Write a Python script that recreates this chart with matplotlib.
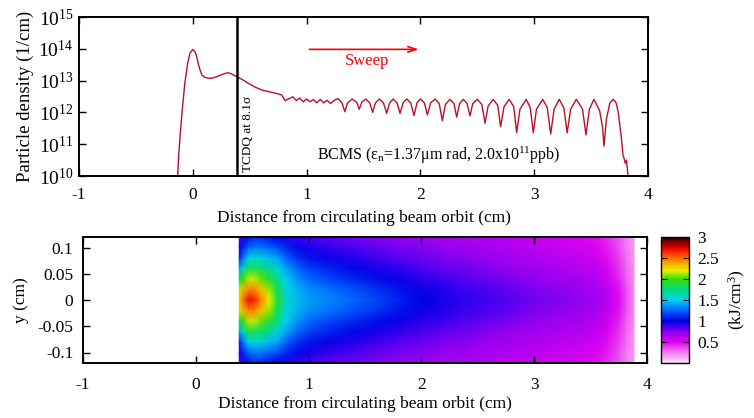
import numpy as np
import matplotlib
matplotlib.use("Agg")
import matplotlib.pyplot as plt
from matplotlib.colors import LinearSegmentedColormap
from matplotlib.ticker import FixedLocator, NullLocator

plt.rcParams['font.family'] = ['Liberation Serif', 'DejaVu Serif']
plt.rcParams['mathtext.fontset'] = 'custom'
plt.rcParams['mathtext.rm'] = 'Liberation Serif'
plt.rcParams['mathtext.it'] = 'Liberation Serif:italic'

# ---------------- top panel: particle density ----------------
dist_cm = [-0.135, -0.125, -0.11, -0.09, -0.07, -0.045, -0.025, 0.0, 0.02, 0.035, 0.05, 0.064,
           0.08, 0.10, 0.13, 0.16, 0.21, 0.27, 0.31, 0.34, 0.39, 0.44, 0.50, 0.55, 0.61,
           0.67, 0.73, 0.78, 0.81, 0.85, 0.88, 0.91, 0.94, 0.97, 1.00, 1.03, 1.06, 1.09,
           1.12, 1.15, 1.18, 1.21, 1.25, 1.279, 1.31, 1.337, 1.36, 1.40, 1.44, 1.463,
           1.485, 1.52, 1.555, 1.58, 1.605, 1.64, 1.675, 1.704, 1.73, 1.76, 1.795, 1.821,
           1.85, 1.88, 1.915, 1.944, 1.97, 2.00, 2.035, 2.061, 2.09, 2.13, 2.165, 2.193,
           2.22, 2.26, 2.295, 2.319, 2.345, 2.377, 2.41, 2.436, 2.46, 2.50, 2.54, 2.568,
           2.595, 2.64, 2.68, 2.705, 2.735, 2.78, 2.82, 2.846, 2.875, 2.93, 2.965, 2.992,
           3.02, 3.075, 3.115, 3.145, 3.175, 3.22, 3.26, 3.29, 3.32, 3.37, 3.425, 3.455,
           3.485, 3.525, 3.575, 3.60, 3.613, 3.635, 3.665, 3.695, 3.72, 3.74, 3.768, 3.78,
           3.79, 3.80, 3.81, 3.82, 3.827]
log_density = [9.8, 10.6, 11.35, 12.18, 12.92, 13.54, 13.86, 13.98, 13.90, 13.75, 13.50, 13.33,
               13.18, 13.11, 13.08, 13.07, 13.12, 13.21, 13.25, 13.21, 13.12, 13.02, 12.89, 12.79, 12.70,
               12.65, 12.60, 12.55, 12.37, 12.44, 12.49, 12.37, 12.45, 12.33, 12.42, 12.34, 12.40, 12.30,
               12.41, 12.30, 12.38, 12.28, 12.40, 12.43, 12.30, 12.02, 12.30, 12.42, 12.32, 12.10,
               12.32, 12.42, 12.30, 12.00, 12.30, 12.42, 12.30, 11.97, 12.30, 12.42, 12.30, 11.97,
               12.32, 12.42, 12.30, 11.90, 12.30, 12.42, 12.30, 11.92, 12.30, 12.42, 12.28, 11.74,
               12.25, 12.41, 12.28, 11.85, 12.28, 12.41, 12.28, 11.89, 12.28, 12.41, 12.25, 11.66,
               12.20, 12.41, 12.22, 11.55, 12.18, 12.41, 12.18, 11.36, 12.10, 12.41, 12.15, 11.36,
               12.10, 12.41, 12.15, 11.32, 12.10, 12.41, 12.15, 11.36, 12.10, 12.41, 12.10, 11.29,
               12.10, 12.41, 12.05, 11.55, 10.94, 11.80, 12.30, 12.41, 12.30, 11.97, 11.13, 10.66,
               10.55, 10.40, 10.50, 10.20, 9.8]

tcdq_pos = 0.385
xticks = [-1, 0, 1, 2, 3, 4]
ytick_exp = [10, 11, 12, 13, 14, 15]

# ---------------- bottom panel: energy density map ----------------
map_x = [0.385, 0.42, 0.47, 0.52, 0.58, 0.65, 0.72, 0.80, 0.90, 1.0, 1.2, 1.4, 1.6, 1.8,
         2.0, 2.2, 2.4, 2.6, 2.8, 3.0, 3.2, 3.4, 3.55, 3.65, 3.75, 3.82, 3.885]
abs_y = [0.0, 0.02, 0.04, 0.06, 0.08, 0.10, 0.12]
e_y000 = [2.30, 2.50, 2.70, 2.65, 2.45, 2.20, 1.90, 1.60, 1.45, 1.38, 1.32, 1.25, 1.18, 1.08,
          1.00, 0.95, 0.91, 0.87, 0.83, 0.79, 0.76, 0.73, 0.69, 0.61, 0.49, 0.34, 0.22]
e_y002 = [2.15, 2.35, 2.45, 2.45, 2.30, 2.10, 1.85, 1.55, 1.42, 1.35, 1.28, 1.20, 1.13, 1.05,
          0.98, 0.93, 0.89, 0.85, 0.81, 0.77, 0.74, 0.71, 0.67, 0.59, 0.47, 0.33, 0.22]
e_y004 = [1.80, 2.00, 2.15, 2.15, 2.05, 1.90, 1.75, 1.50, 1.35, 1.26, 1.17, 1.10, 1.04, 0.98,
          0.92, 0.88, 0.84, 0.80, 0.77, 0.73, 0.70, 0.67, 0.63, 0.56, 0.44, 0.31, 0.21]
e_y006 = [1.40, 1.65, 1.85, 1.85, 1.80, 1.70, 1.55, 1.40, 1.26, 1.17, 1.08, 1.01, 0.96, 0.91,
          0.86, 0.82, 0.79, 0.76, 0.72, 0.69, 0.66, 0.63, 0.59, 0.52, 0.41, 0.29, 0.20]
e_y008 = [1.10, 1.30, 1.50, 1.55, 1.55, 1.45, 1.40, 1.25, 1.12, 1.05, 0.98, 0.93, 0.88, 0.84,
          0.80, 0.77, 0.74, 0.71, 0.68, 0.65, 0.62, 0.59, 0.55, 0.48, 0.38, 0.27, 0.19]
e_y010 = [0.95, 1.10, 1.25, 1.30, 1.30, 1.25, 1.20, 1.10, 1.02, 0.96, 0.90, 0.86, 0.82, 0.78,
          0.75, 0.72, 0.70, 0.67, 0.64, 0.61, 0.58, 0.55, 0.51, 0.45, 0.35, 0.25, 0.18]
e_y012 = [0.85, 0.95, 1.05, 1.10, 1.10, 1.05, 1.00, 0.95, 0.90, 0.86, 0.82, 0.78, 0.75, 0.72,
          0.70, 0.67, 0.65, 0.63, 0.60, 0.57, 0.55, 0.52, 0.48, 0.42, 0.33, 0.24, 0.18]
cbar_ticks = [0.5, 1, 1.5, 2, 2.5, 3]
map_yticks = [-0.1, -0.05, 0, 0.05, 0.1]

palette_vals = [0.0, 0.25, 0.5, 0.72, 0.9, 1.0, 1.25, 1.5, 1.75, 2.0, 2.2, 2.4, 2.6, 2.75, 2.9, 3.0]
palette_cols = ['#f8e6f8', '#f27af2', '#de00f0', '#9600f0', '#3200f0', '#0000e6', '#0064ff',
                '#00d2f0', '#00dc82', '#3cdc00', '#e6f000', '#ffa000', '#ff3c00', '#dc0000',
                '#780000', '#000000']

cmap = LinearSegmentedColormap.from_list(
    'gp', [(v / 3.0, c) for v, c in zip(palette_vals, palette_cols)])

W, H = 754, 418
fig = plt.figure(figsize=(W / 100, H / 100), dpi=100)
FS = 12.5

def style_axes(ax, xpad):
    for s in ax.spines.values():
        s.set_linewidth(1.4)
    ax.tick_params(which='both', direction='in', top=True, right=True, labelsize=FS,
                   width=1.0, colors='black')
    ax.tick_params(which='major', length=5)
    ax.tick_params(axis='x', pad=xpad)

# top
ax1 = fig.add_axes([79 / W, 1 - 176 / H, (648 - 79) / W, (176 - 17) / H])
dens = 10.0 ** np.array(log_density)
ax1.plot(dist_cm, dens, color='#b81028', lw=1.0)
ax1.axvline(tcdq_pos, color='black', lw=1.8)
ax1.set_yscale('log')
ax1.set_xlim(-1, 4)
ax1.set_ylim(1e10, 1e15)
ax1.set_xticks(xticks)
ax1.set_xticklabels([str(t) for t in xticks])
ax1.yaxis.set_major_locator(FixedLocator([10.0 ** e for e in ytick_exp]))
ax1.set_yticklabels([r'$\mathregular{10^{%d}}$' % e for e in ytick_exp])
ax1.yaxis.set_minor_locator(NullLocator())
style_axes(ax1, 8)
ax1.tick_params(axis='y', labelsize=14, pad=4)
ax1.set_xlabel('Distance from circulating beam orbit (cm)', fontsize=FS, labelpad=5)
ax1.set_ylabel('Particle density (1/cm)', fontsize=13.5, labelpad=3)
ax1.text(0.485, 1.35e10, 'TCDQ at 8.1σ', rotation=90, ha='center', va='bottom',
         fontsize=9.5)
ax1.text(2.163, 4.6e10, r'BCMS (ε$_{\mathregular{n}}$=1.37μm rad, 2.0x10$^{\mathregular{11}}$ppb)',
         ha='center', va='center', fontsize=11.5)
ax1.annotate('', xy=(2.01, 9.6e13), xytext=(1.0, 9.6e13),
             arrowprops=dict(arrowstyle='->,head_length=0.6,head_width=0.2', color='red', lw=1.2))
ax1.text(1.53, 4.2e13, 'Sweep', color='red', ha='center', va='center', fontsize=12)

# bottom
ax2 = fig.add_axes([83 / W, 1 - 363 / H, (647 - 83) / W, (363 - 237) / H])
rows_half = [e_y000, e_y002, e_y004, e_y006, e_y008, e_y010, e_y012]
grid = np.array(rows_half[::-1] + rows_half[1:])
ygrid = np.array([-v for v in abs_y[::-1]] + abs_y[1:])
mesh = ax2.pcolormesh(map_x, ygrid, grid, cmap=cmap, vmin=0, vmax=3, shading='gouraud')
ax2.set_xlim(-1, 4)
ax2.set_ylim(-0.12, 0.12)
ax2.set_xticks(xticks)
ax2.set_xticklabels([str(t) for t in xticks])
ax2.set_yticks(map_yticks)
ax2.set_yticklabels(['-0.1', '-0.05', '0', '0.05', '0.1'])
style_axes(ax2, 10)
ax2.tick_params(axis='y', pad=7)
ax2.set_xlabel('Distance from circulating beam orbit (cm)', fontsize=FS, labelpad=2)
ax2.set_ylabel('y (cm)', fontsize=FS, labelpad=6)

cax = fig.add_axes([661 / W, 1 - 363 / H, (689 - 661) / W, (363 - 237) / H])
cb = fig.colorbar(mesh, cax=cax, ticks=cbar_ticks)
cb.ax.set_yticklabels(['0.5', '1', '1.5', '2', '2.5', '3'])
cb.outline.set_linewidth(1.0)
cax.tick_params(direction='in', left=True, right=True, labelsize=FS, length=4, pad=6)
cb.set_label(r'(kJ/cm$^{\mathregular{3}}$)', fontsize=FS, labelpad=6)

fig.savefig('out.png', dpi=100)
